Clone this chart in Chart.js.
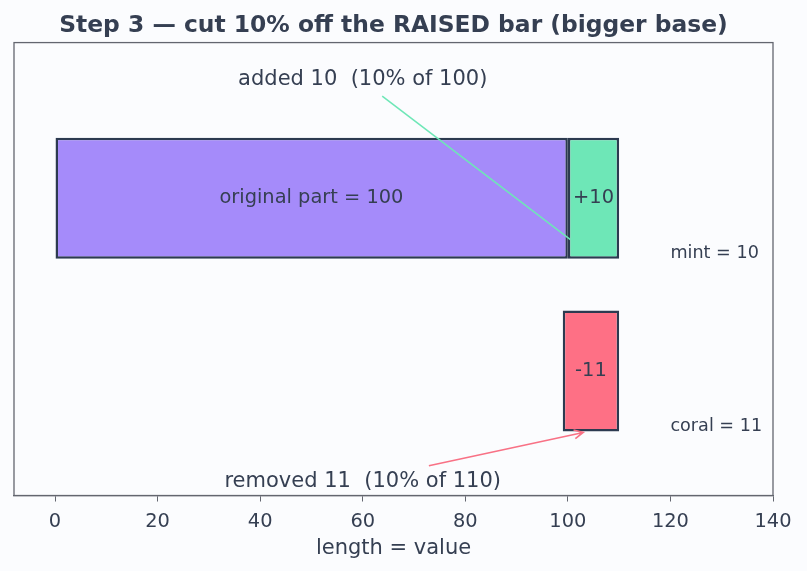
<!DOCTYPE html>
<html>
<head>
<meta charset="utf-8">
<script src="https://cdn.jsdelivr.net/npm/chart.js@4.4.0/dist/chart.umd.min.js"></script>
<style>
  html, body { margin: 0; padding: 0; background: #fbfcfe; }
  canvas { display: block; }
</style>
</head>
<body>
<canvas id="chart" width="807" height="571"></canvas>
<script>
// rows on the value-less axis: 1 = raised bar, 0 = the cut
const rowRaised = 1;
const rowCut = 0;

// bar extents (floating bars, [start, end])
const originalPart = [0, 100];
const addedPart = [100, 110];
const removedPart = [99, 110];
const barLabels = ['original part = 100', '+10', '-11'];

// axis
const xTicks = [0, 20, 40, 60, 80, 100, 120, 140];
const xRange = [-8, 140];
const yRange = [-0.72, 1.9];

// notes in data units
const sideNotes = ['mint = 10', 'coral = 11'];
const sideNoteX = [120, 120];
const sideNoteY = [0.68, -0.32];

const addedText = 'added 10  (10% of 100)';
const addedTextAt = [60, 1.685];
const addedLine = [[63.8, 1.59], [100.5, 0.76]];

const removedText = 'removed 11  (10% of 110)';
const removedTextAt = [60, -0.64];
const removedArrow = [[72.9, -0.548], [103, -0.355]];

const INK = '#353f52';
const EDGE = '#2c3a50';
const FONT = '"DejaVu Sans", sans-serif';

const framePlugin = {
    id: 'frame',
    beforeDraw(chart) {
        const c = chart.ctx;
        c.save();
        c.fillStyle = '#fbfcfe';
        c.fillRect(0, 0, chart.width, chart.height);
        c.restore();
    },
    afterDraw(chart) {
        const a = chart.chartArea;
        const c = chart.ctx;
        c.save();
        c.strokeStyle = '#63666f';
        c.lineWidth = 1.3;
        c.strokeRect(a.left, a.top, a.right - a.left, a.bottom - a.top);
        c.restore();
    }
};

const notesPlugin = {
    id: 'notes',
    afterDatasetsDraw(chart) {
        const c = chart.ctx;
        const xs = chart.scales.x, ys = chart.scales.y;
        const px = v => xs.getPixelForValue(v);
        const py = v => ys.getPixelForValue(v);
        c.save();

        // labels inside the bars
        c.fillStyle = INK;
        c.textAlign = 'center';
        c.textBaseline = 'middle';
        c.font = '19.4px ' + FONT;
        const spans = [[originalPart, rowRaised], [addedPart, rowRaised], [removedPart, rowCut]];
        spans.forEach((s, i) => {
            const mid = (s[0][0] + s[0][1]) / 2;
            c.fillText(barLabels[i], px(mid), py(s[1]));
        });

        // mint leader line
        c.strokeStyle = '#6ee7b7';
        c.lineWidth = 1.5;
        c.beginPath();
        c.moveTo(px(addedLine[0][0]), py(addedLine[0][1]));
        c.lineTo(px(addedLine[1][0]), py(addedLine[1][1]));
        c.stroke();

        // coral arrow
        const x0 = px(removedArrow[0][0]), y0 = py(removedArrow[0][1]);
        const x1 = px(removedArrow[1][0]), y1 = py(removedArrow[1][1]);
        c.strokeStyle = '#f87185';
        c.lineWidth = 1.6;
        c.beginPath();
        c.moveTo(x0, y0);
        c.lineTo(x1, y1);
        const ang = Math.atan2(y1 - y0, x1 - x0);
        const h = 10;
        c.moveTo(x1 - h * Math.cos(ang - 0.45), y1 - h * Math.sin(ang - 0.45));
        c.lineTo(x1, y1);
        c.lineTo(x1 - h * Math.cos(ang + 0.45), y1 - h * Math.sin(ang + 0.45));
        c.stroke();

        // callout texts
        c.fillStyle = INK;
        c.font = '21px ' + FONT;
        c.fillText(addedText, px(addedTextAt[0]), py(addedTextAt[1]));
        c.fillText(removedText, px(removedTextAt[0]), py(removedTextAt[1]));

        // side notes
        c.textAlign = 'left';
        c.font = '17.6px ' + FONT;
        sideNotes.forEach((t, i) => c.fillText(t, px(sideNoteX[i]), py(sideNoteY[i])));
        c.restore();
    }
};

const barStyle = {
    borderColor: EDGE,
    borderWidth: 2.5,
    borderSkipped: false,
    barPercentage: 0.7,
    categoryPercentage: 1,
    stack: 'one'
};

new Chart(document.getElementById('chart'), {
    type: 'bar',
    data: {
        datasets: [
            { ...barStyle, label: 'original', backgroundColor: '#a58bfa', data: [{ x: originalPart, y: rowRaised }] },
            { ...barStyle, label: 'mint', backgroundColor: '#6ee7b7', data: [{ x: addedPart, y: rowRaised }] },
            { ...barStyle, label: 'coral', backgroundColor: '#fe7085', data: [{ x: removedPart, y: rowCut }] }
        ]
    },
    options: {
        indexAxis: 'y',
        responsive: false,
        animation: false,
        devicePixelRatio: 1,
        layout: { padding: { left: 14, right: 34, top: 4, bottom: 8 } },
        scales: {
            x: {
                type: 'linear',
                min: xRange[0],
                max: xRange[1],
                stacked: false,
                afterBuildTicks: s => { s.ticks = xTicks.map(v => ({ value: v })); },
                grid: { display: true, drawOnChartArea: false, drawTicks: true, tickLength: 6, color: '#63666f' },
                border: { display: true, color: '#63666f', width: 1.3 },
                ticks: { color: INK, font: { family: FONT, size: 19.4 }, padding: 9 },
                title: { display: true, text: 'length = value', color: INK, font: { family: FONT, size: 21 }, padding: { top: -7, bottom: 2 } }
            },
            y: {
                type: 'linear',
                min: yRange[0],
                max: yRange[1],
                stacked: true,
                offset: false,
                display: false,
                afterBuildTicks: s => { s.ticks = [rowCut, rowRaised].map(v => ({ value: v })); }
            }
        },
        plugins: {
            legend: { display: false },
            tooltip: { enabled: false },
            title: {
                display: true,
                text: 'Step 3 — cut 10% off the RAISED bar (bigger base)',
                color: INK,
                font: { family: FONT, size: 23.4, weight: 'bold' },
                padding: { top: 8, bottom: 2.5 }
            }
        }
    },
    plugins: [framePlugin, notesPlugin]
});
</script>
</body>
</html>
